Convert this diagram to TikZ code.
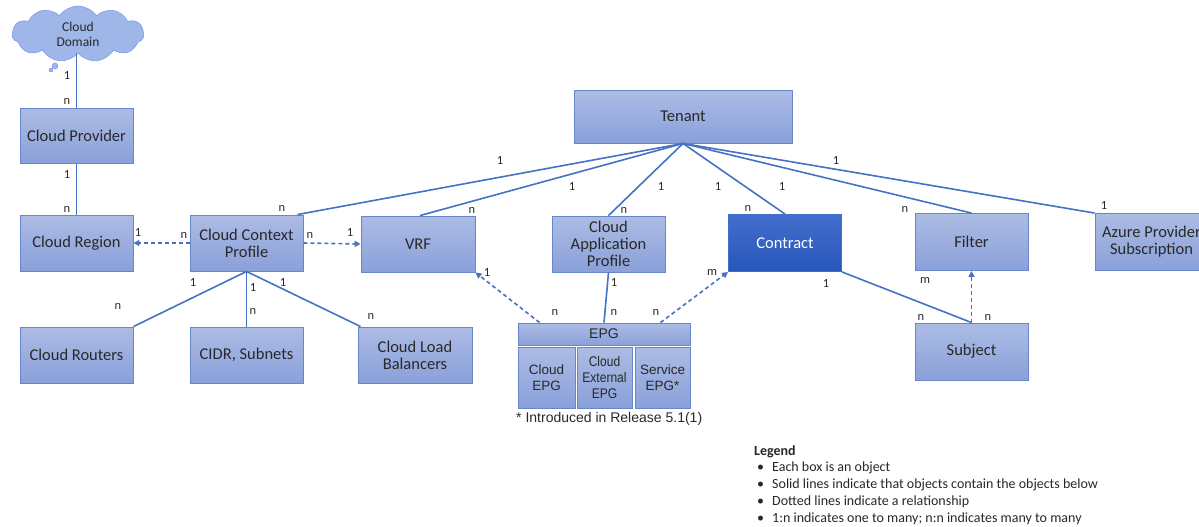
\documentclass[tikz,border=0pt]{standalone}
\usepackage{fontspec}
\setmainfont{Carlito}
\newfontfamily\arialf{Liberation Sans}
\newfontfamily\arialnarrow[FakeStretch=0.86]{Liberation Sans}
\usetikzlibrary{shapes.symbols,arrows.meta,calc}
\definecolor{lnc}{RGB}{68,114,196}
\definecolor{bxtop}{RGB}{172,188,228}
\definecolor{bxbot}{RGB}{138,160,218}
\definecolor{bxdraw}{RGB}{104,134,206}
\definecolor{cttop}{RGB}{66,110,204}
\definecolor{ctbot}{RGB}{40,86,186}
\definecolor{txt}{RGB}{40,40,40}
\definecolor{cloudf}{RGB}{158,182,232}
\tikzset{
  objbox/.style={draw=bxdraw, line width=0.9pt, top color=bxtop, bottom color=bxbot,
    minimum width=113pt, minimum height=56pt, inner sep=1pt, align=center,
    text=txt, font=\fontsize{16.5}{17}\selectfont},
  darkbox/.style={objbox, draw=cttop, top color=cttop, bottom color=ctbot, text=white},
  epgbox/.style={objbox, font=\arialf\fontsize{13.5}{15.5}\selectfont, text=txt},
  solidln/.style={draw=lnc, line width=1.6pt},
  dashln/.style={draw=lnc, line width=1.6pt, dash pattern=on 4pt off 3pt, -{Triangle[length=6pt,width=6pt]}},
  mult/.style={font=\fontsize{12.5}{13}\selectfont, text=txt, inner sep=0pt},
  legtext/.style={font=\fontsize{14}{15}\selectfont, text=txt, inner sep=0pt, anchor=west},
}
\begin{document}
\begin{tikzpicture}[x=1pt,y=-1pt]
\useasboundingbox (0,0) rectangle (1199,527);
% cloud
\node[cloud, cloud puffs=11, cloud puff arc=110, aspect=2.6, draw=cloudf!75!blue, fill=cloudf,
  minimum width=132pt, minimum height=56pt, align=center, text=txt,
  font=\fontsize{13.5}{15}\selectfont, inner sep=0pt] (dom) at (78,34) {Cloud\\Domain};
\node[circle, fill=cloudf, draw=cloudf!75!blue, minimum size=6pt, inner sep=0pt] (tail1) at (55,66) {};
\node[circle, fill=cloudf, draw=cloudf!75!blue, minimum size=4pt, inner sep=0pt] (tail2) at (51,70) {};
% boxes
\node[objbox, minimum height=55pt] (prov) at (76.5,135.5) {Cloud Provider};
\node[objbox] (region) at (76.5,243) {Cloud Region};
\node[objbox] (ccp) at (246.5,243) {Cloud Context\\Profile};
\node[objbox, minimum width=114pt] (vrf) at (418,244) {VRF};
\node[objbox] (cap) at (608.5,244) {Cloud\\Application\\Profile};
\node[darkbox, minimum height=57pt] (contract) at (785,243) {Contract};
\node[objbox, minimum height=57pt] (filter) at (971.5,242) {Filter};
\node[objbox, minimum height=57pt] (azure) at (1151.5,242) {Azure Provider\\Subscription};
\node[objbox, minimum height=57pt] (subject) at (971.5,351.5) {Subject};
\node[objbox] (routers) at (76.5,355) {Cloud Routers};
\node[objbox] (cidr) at (246.5,355) {CIDR, Subnets};
\node[objbox, minimum width=114pt] (clb) at (415,355) {Cloud Load\\Balancers};
\node[objbox, minimum width=218pt, minimum height=53pt] (tenant) at (683,116.5) {Tenant};
% EPG
\node[epgbox, minimum width=172pt, minimum height=22pt, font=\arialf\fontsize{14}{15}\selectfont] (epg) at (604,334) {EPG};
\node[epgbox, minimum width=57pt, minimum height=61pt] (cepg) at (546.5,377.5) {Cloud\\EPG};
\node[epgbox, minimum width=55pt, minimum height=61pt, font=\arialnarrow\fontsize{14}{16}\selectfont] (eepg) at (604.5,377.5) {Cloud\\External\\EPG};
\node[epgbox, minimum width=55pt, minimum height=61pt] (sepg) at (662.5,377.5) {Service\\EPG*};
\node[font=\arialf\fontsize{14}{15}\selectfont, text=txt, anchor=west, inner sep=0pt] (note) at (516,419) {* Introduced in Release 5.1(1)};
% connectors
\draw[solidln] (dom.south -| prov.north) -- (prov.north);
\draw[solidln] (prov.south) -- (region.north);
\draw[dashln] (ccp.west) -- (region.east);
\draw[dashln] (ccp.east) -- (vrf.west);
\draw[solidln] (ccp.south) -- (routers.north east);
\draw[solidln] (ccp.south) -- (cidr.north);
\draw[solidln] (ccp.south) -- ($(clb.north west)+(3,0)$);
\coordinate (tap) at (tenant.south);
\draw[solidln] (tap) -- ($(ccp.north east)+(-6,0)$);
\draw[solidln] (tap) -- ($(vrf.north)+(2,0)$);
\draw[solidln] (tap) -- (cap.north);
\draw[solidln] (tap) -- (contract.north);
\draw[solidln] (tap) -- (filter.north);
\draw[solidln] (tap) -- (azure.north west);
\draw[dashln] ($(epg.north west)+(22,0)$) -- (vrf.south east);
\draw[solidln] (cap.south) -- (epg.north);
\draw[dashln] ($(epg.north east)+(-30,0)$) -- (contract.south west);
\draw[solidln] (contract.south east) -- (subject.north);
\draw[dashln] (subject.north) -- (filter.south);
% multiplicities
\node[mult] (m1) at (67,75) {1};
\node[mult] (m2) at (67,101) {n};
\node[mult] (m3) at (67,174) {1};
\node[mult] (m4) at (67,209) {n};
\node[mult] (m5) at (138,232) {1};
\node[mult] (m6) at (184,235) {n};
\node[mult] (m7) at (310,235) {n};
\node[mult] (m8) at (350,232) {1};
\node[mult] (m9) at (193,282) {1};
\node[mult] (m10) at (253,287) {1};
\node[mult] (m11) at (283,282) {1};
\node[mult] (m12) at (118,306) {n};
\node[mult] (m13) at (253,311) {n};
\node[mult] (m14) at (371,316) {n};
\node[mult] (m15) at (500,160) {1};
\node[mult] (m16) at (282,208) {n};
\node[mult] (m17) at (572,186) {1};
\node[mult] (m18) at (472,210) {n};
\node[mult] (m19) at (661,186) {1};
\node[mult] (m20) at (624,210) {n};
\node[mult] (m21) at (718,186) {1};
\node[mult] (m22) at (748,208) {n};
\node[mult] (m23) at (782,186) {1};
\node[mult] (m24) at (905,209) {n};
\node[mult] (m25) at (836,160) {1};
\node[mult] (m26) at (1104,205) {1};
\node[mult] (m27) at (487,272) {1};
\node[mult] (m28) at (555,312) {n};
\node[mult] (m29) at (614,282) {1};
\node[mult] (m30) at (614,312) {n};
\node[mult] (m31) at (712,272) {m};
\node[mult] (m32) at (656,312) {n};
\node[mult] (m33) at (826,283) {1};
\node[mult] (m34) at (921,317) {n};
\node[mult] (m35) at (925,280) {m};
\node[mult] (m36) at (988,317) {n};
% legend
\node[legtext, font=\bfseries\fontsize{14}{15}\selectfont] (lg) at (754,452) {Legend};
\node[legtext] (b1) at (757,468) {\textbullet};
\node[legtext] (t1) at (772,468) {Each box is an object};
\node[legtext] (b2) at (757,485) {\textbullet};
\node[legtext] (t2) at (772,485) {Solid lines indicate that objects contain the objects below};
\node[legtext] (b3) at (757,502) {\textbullet};
\node[legtext] (t3) at (772,502) {Dotted lines indicate a relationship};
\node[legtext] (b4) at (757,519) {\textbullet};
\node[legtext] (t4) at (772,519) {1:n indicates one to many; n:n indicates many to many};
\end{tikzpicture}
\end{document}
